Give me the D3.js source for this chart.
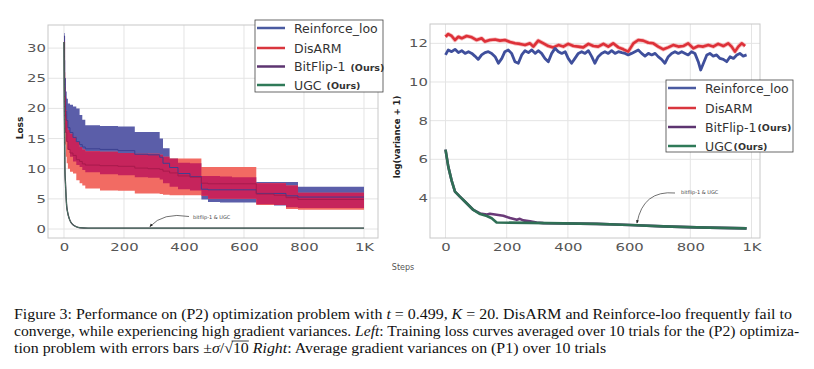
<!DOCTYPE html>
<html><head><meta charset="utf-8">
<script src="https://cdn.jsdelivr.net/npm/d3@7"></script>
<style>
body{margin:0;background:#fff;}
svg{display:block;}
</style></head><body>
<svg id="c" width="814" height="369"></svg>
<script>
// ---------- LEFT: training loss (step-wise bands) ----------
const lossSteps       = [0,2,4,6,9,13,20,30,41,52,61,71,120,180,236,280,319,330,352,380,420,458,480,520,560,600,641,700,740,780,850,920,1000];
const reinforceUpper  = [32.5,28,25,22.8,21.6,20.8,20.6,20.3,20.0,18.9,18.1,17.2,17.1,17.0,16.1,16.1,15.0,13.4,11.7,11.0,10.9,8.8,8.8,8.7,8.6,8.6,7.8,7.8,7.8,7.0,7.0,7.0,7.0];
const reinforceMean   = [32,25,21.8,19.5,18,16.8,16,15.2,14.5,14.0,13.6,13.3,13.2,13.0,12.4,12.3,11.9,10.9,10.2,9.2,8.7,6.6,6.5,6.5,6.5,6.5,5.9,5.9,5.5,5.3,5.3,5.3,5.3];
const reinforceLower  = [31,22,18.5,16,14.5,13.2,12.0,11.2,10.6,10.3,9.8,9.4,9.1,8.9,8.6,8.5,8.2,7.6,7.0,6.6,6.4,4.9,4.5,4.4,4.4,4.4,4.1,3.9,3.6,3.5,3.5,3.5,3.5];
const disarmUpper     = [32,26,23.6,19.7,18.1,16.4,15.8,15.3,14.5,13.6,13.2,12.9,12.8,12.6,12.5,12.5,12.3,12.0,11.7,11.7,11.7,10.3,10.3,10.3,10.3,10.3,7.6,7.6,7.2,6.0,6.0,6.0,6.0];
const disarmMean      = [31,22,19,16,14.5,13.2,12.6,12.2,11.5,11.2,10.8,10.6,10.5,10.4,10.1,10.0,9.9,9.6,9.3,8.8,8.6,7.6,7.5,7.5,7.5,7.5,5.8,5.6,5.2,4.9,4.9,4.9,4.9];
const disarmLower     = [30,18,14,12,10.9,10,9.5,9.2,8.1,7.6,7.2,6.7,6.4,6.35,5.9,5.9,5.8,5.7,5.6,5.6,5.6,5.5,5.0,5.0,5.0,5.0,4.0,4.0,3.3,3.2,3.2,3.2,3.2];
const ugcLossSteps    = [0,1,2,3,5,7,9,12,17,22,31,40,53,80,150,400,700,1000];
const ugcLoss         = [31,22,16,10,7.5,5.3,3.8,2.8,1.8,1.2,0.66,0.4,0.22,0.15,0.15,0.15,0.15,0.15];
const bitflipLoss     = [31,22,16,10,7.5,5.3,3.8,2.8,1.8,1.2,0.66,0.4,0.22,0.15,0.15,0.15,0.15,0.15];

// ---------- RIGHT: log(variance + 1) ----------
const disarmVarSteps = [0,9,20,31,42,53,69,86,102,118,129,145,162,178,194,211,227,243,260,276,287,303,320,336,352,369,385,401,418,434,450,467,483,499,516,532,548,565,581,597,614,630,646,663,679,695,712,728,744,761,777,793,810,826,842,859,875,891,908,924,935,946,957,968,979];
const disarmVar      = [12.34,12.48,12.38,12.17,12.34,12.26,12.38,12.31,12.17,12.26,12.09,12.17,12.2,12.14,12.17,12.07,12.0,11.97,11.91,12.0,11.83,12.14,12.0,11.86,11.79,11.91,11.83,11.97,11.86,11.83,11.79,11.97,11.86,11.83,11.97,11.83,12.0,11.79,11.69,11.57,12.0,12.17,12.14,12.03,12.0,11.83,11.69,11.79,11.91,11.83,11.86,12.0,11.74,11.86,11.83,11.91,11.83,11.97,11.86,12.0,11.83,11.57,11.83,12.0,11.86];
const reinforceVarSteps = [0,9,20,31,42,53,64,75,86,96,107,118,129,140,151,162,173,184,194,205,216,227,238,249,260,271,282,293,303,314,325,336,347,358,369,380,391,401,412,423,434,445,456,467,478,488,499,510,521,532,543,554,565,576,587,597,608,619,630,641,652,663,674,685,695,706,717,728,739,750,761,772,783,793,804,815,826,834,843,854,864,875,886,897,908,919,930,941,952,962,973,984];
const reinforceVar      = [11.4,11.66,11.57,11.69,11.52,11.62,11.48,11.57,11.48,11.34,11.17,11.4,11.52,11.57,11.48,11.31,10.97,11.22,11.57,11.66,11.48,11.05,10.97,11.4,11.62,11.52,11.66,11.48,11.62,11.48,11.22,11.05,11.48,11.74,11.57,11.48,11.57,11.22,10.97,11.22,11.48,11.57,11.48,11.62,11.31,10.97,11.31,11.48,11.57,11.48,11.62,11.48,11.57,11.52,11.48,11.4,11.48,11.57,11.66,11.48,11.34,11.48,11.4,11.48,11.31,11.17,10.97,11.31,11.48,11.57,11.48,11.57,11.48,11.4,11.57,11.48,11.05,10.62,10.97,11.4,11.48,11.34,11.4,11.22,11.17,11.05,11.31,11.22,11.4,11.48,11.34,11.4];
const ugcVarSteps = [0,9,20,31,47,69,91,113,135,151,167,276,494,603,712,821,984];
const ugcVar      = [6.5,5.62,4.9,4.33,4.07,3.73,3.38,3.17,3.07,2.95,2.73,2.71,2.66,2.6,2.53,2.48,2.43];
const bitflipVarSteps = [0,9,20,31,47,69,91,113,135,145,167,189,211,233,243,254,276,298,320,494,603,712,821,984];
const bitflipVar      = [6.5,5.62,4.9,4.33,4.07,3.73,3.38,3.2,3.15,3.18,3.13,3.08,2.96,2.87,2.92,2.84,2.79,2.73,2.7,2.66,2.6,2.53,2.48,2.43];

const xTicks = [0,200,400,600,800,1000];
const lossTicks = [0,5,10,15,20,25,30];
const varTicks = [4,6,8,10,12];
const legendNames = ["Reinforce_loo","DisARM","BitFlip-1","UGC"];
const legendOurs  = [false,false,true,true];
const annotationText = "bitflip-1 & UGC";

// ---------- colours ----------
const C = {
  blueBand:"#5b5ea9", redBand:"#f26b63", overlap:"#c6245c",
  blueMean:"#3c4192", redMean:"#a81a4c",
  blueLine:"#3f4f9c", redLine:"#dd3038", purple:"#6a3a78", green:"#2f6f55",
  grid:"#e4e4e4", frame:"#c8c8c8", tick:"#555"
};
const legendColors = ["#4a5aa0","#d9363e","#5d3470","#2f7a58"];

const svg = d3.select("#c");
const fmt = d => d===1000 ? "1K" : d;

svg.append("defs").append("marker").attr("id","arr").attr("viewBox","0 0 10 10")
  .attr("refX",8).attr("refY",5).attr("markerWidth",5).attr("markerHeight",5).attr("orient","auto")
  .append("path").attr("d","M0,1 L10,5 L0,9 z").attr("fill","#222");

function frame(g, x, y, xt, yt){
  const [x0,x1] = x.range(), [y0,y1] = y.range();
  g.append("g").selectAll("line").data(xt).join("line")
    .attr("x1",d=>x(d)).attr("x2",d=>x(d)).attr("y1",y0).attr("y2",y1)
    .attr("stroke",C.grid).attr("stroke-width",1);
  g.append("g").selectAll("line").data(yt).join("line")
    .attr("x1",x0).attr("x2",x1).attr("y1",d=>y(d)).attr("y2",d=>y(d))
    .attr("stroke",C.grid).attr("stroke-width",1);
  g.append("rect").attr("x",x0).attr("y",y1).attr("width",x1-x0).attr("height",y0-y1)
    .attr("fill","none").attr("stroke",C.frame).attr("stroke-width",1);
  const ax = g.append("g").attr("transform",`translate(0,${y0})`)
    .call(d3.axisBottom(x).tickValues(xt).tickFormat(fmt).tickSize(0).tickPadding(5));
  const ay = g.append("g").attr("transform",`translate(${x0},0)`)
    .call(d3.axisLeft(y).tickValues(yt).tickSize(0).tickPadding(1.5));
  [ax,ay].forEach(a=>{
    a.select(".domain").remove();
    a.selectAll("text").attr("fill",C.tick).attr("font-family","DejaVu Sans").attr("font-size",11)
      .attr("transform","scale(1.35,1)");
  });
}

function legend(g, x, y, w, h, rowY, sep){
  g.append("rect").attr("x",x).attr("y",y).attr("width",w).attr("height",h)
    .attr("fill","#fff").attr("stroke","#444").attr("stroke-width",0.8);
  legendNames.forEach((n,i)=>{
    const yy = rowY[i];
    g.append("line").attr("x1",x+2).attr("x2",x+30).attr("y1",yy).attr("y2",yy)
      .attr("stroke",legendColors[i]).attr("stroke-width",2.5);
    const t = g.append("text").attr("x",x+39).attr("y",yy+4.5)
      .attr("font-family","DejaVu Sans").attr("font-size",12.5).attr("fill","#333").text(n);
    if(legendOurs[i]) t.append("tspan").attr("dx",sep).attr("dy",-0.5).attr("font-size",9.5).attr("font-weight","bold").text("(Ours)");
  });
}

function annot(g, tx, ty, p0, c, p1){
  g.append("text").attr("x",tx).attr("y",ty).attr("font-family","DejaVu Sans")
    .attr("font-size",5).attr("fill","#444").text(annotationText);
  const p = d3.path(); p.moveTo(p0[0],p0[1]); p.quadraticCurveTo(c[0],c[1],p1[0],p1[1]);
  g.append("path").attr("d",p.toString()).attr("fill","none").attr("stroke","#333")
    .attr("stroke-width",0.7).attr("marker-end","url(#arr)");
}

// ---------- LEFT chart ----------
{
  const g = svg.append("g");
  const x = d3.scaleLinear().domain([-53.3,1046.7]).range([48,378]);
  const y = d3.scaleLinear().domain([-1.49,33.83]).range([238,25]);
  frame(g, x, y, xTicks, lossTicks);

  const band = (lo, hi) => d3.area().curve(d3.curveStepAfter)
    .x((d,i)=>x(lossSteps[i])).y0((d,i)=>y(lo[i])).y1((d,i)=>y(hi[i]))(lossSteps);
  const line = (v, s) => d3.line().curve(d3.curveStepAfter)
    .x((d,i)=>x(s[i])).y((d,i)=>y(v[i]))(s);

  g.append("clipPath").attr("id","blueClip").append("path").attr("d",band(reinforceLower,reinforceUpper));
  g.append("path").attr("d",band(reinforceLower,reinforceUpper)).attr("fill",C.blueBand);
  g.append("path").attr("d",band(disarmLower,disarmUpper)).attr("fill",C.redBand);
  g.append("path").attr("d",band(disarmLower,disarmUpper)).attr("fill",C.overlap).attr("clip-path","url(#blueClip)");
  g.append("path").attr("d",line(reinforceMean,lossSteps)).attr("fill","none").attr("stroke",C.blueMean).attr("stroke-width",1);
  g.append("path").attr("d",line(disarmMean,lossSteps)).attr("fill","none").attr("stroke",C.redMean).attr("stroke-width",1);

  const sm = (v) => d3.line().curve(d3.curveMonotoneX).x((d,i)=>x(ugcLossSteps[i])).y((d,i)=>y(v[i]))(ugcLossSteps);
  g.append("path").attr("d",sm(bitflipLoss)).attr("fill","none").attr("stroke","#3a2a40").attr("stroke-width",1.4);
  g.append("path").attr("d",sm(ugcLoss)).attr("fill","none").attr("stroke","#4d7a66").attr("stroke-width",1);

  annot(g, 193, 218.5, [189,216.5],[163,212],[150,226.5]);
  legend(g, 255, 20, 128, 72, [28,48,66.5,85], 5);

  g.append("text").attr("transform","translate(23,128) rotate(-90)").attr("text-anchor","middle")
    .attr("font-family","DejaVu Sans").attr("font-weight","bold").attr("font-size",9).attr("fill","#222").text("Loss");
  g.append("text").attr("x",403).attr("y",270).attr("text-anchor","middle")
    .attr("font-family","DejaVu Sans").attr("font-size",8).attr("fill","#555").text("Steps");
}

// ---------- RIGHT chart ----------
{
  const g = svg.append("g");
  const x = d3.scaleLinear().domain([-50.7,1027.8]).range([430,760]);
  const y = d3.scaleLinear().domain([1.93,13.0]).range([238,24]);
  frame(g, x, y, xTicks, varTicks);
  const ln = (s, v) => d3.line().x((d,i)=>x(s[i])).y((d,i)=>y(v[i]))(s);
  g.append("path").attr("d",ln(disarmVarSteps,disarmVar)).attr("fill","none").attr("stroke","#f08a8e").attr("stroke-width",4.2).attr("opacity",0.6).attr("stroke-linejoin","round");
  g.append("path").attr("d",ln(disarmVarSteps,disarmVar)).attr("fill","none").attr("stroke",C.redLine).attr("stroke-width",2.6).attr("stroke-linejoin","round");
  g.append("path").attr("d",ln(reinforceVarSteps,reinforceVar)).attr("fill","none").attr("stroke",C.blueLine).attr("stroke-width",2.8).attr("stroke-linejoin","round");
  g.append("path").attr("d",ln(bitflipVarSteps,bitflipVar)).attr("fill","none").attr("stroke",C.purple).attr("stroke-width",2.6).attr("stroke-linejoin","round");
  g.append("path").attr("d",ln(ugcVarSteps,ugcVar)).attr("fill","none").attr("stroke",C.green).attr("stroke-width",2.6).attr("stroke-linejoin","round");

  annot(g, 681, 194, [675,193],[643,190],[637,223]);
  legend(g, 666, 80, 127, 72, [88,108,127,146], 1);

  g.append("text").attr("transform","translate(400,137) rotate(-90)").attr("text-anchor","middle")
    .attr("font-family","DejaVu Sans").attr("font-weight","600").attr("font-size",8.5).attr("fill","#222").text("log(variance + 1)");
}

// ---------- caption ----------
{
  const lines = [
    {y:319, w:778, parts:[["Figure 3: Performance on (P2) optimization problem with ",0],["t",1],[" = 0.499, ",0],["K",1],[" = 20. DisARM and Reinforce-loo frequently fail to",0]]},
    {y:336, w:786, parts:[["converge, while experiencing high gradient variances. ",0],["Left",1],[": Training loss curves averaged over 10 trials for the (P2) optimiza-",0]]},
    {y:353, w:593, parts:[["tion problem with errors bars \u00b1",0],["\u03c3",1],["/\u221a",0],["10",2],[" ",0],["Right",1],[": Average gradient variances on (P1) over 10 trials",0]]}
  ];
  lines.forEach(L=>{
    const gg = svg.append("g");
    const t = gg.append("text").attr("x",0).attr("y",0)
      .attr("font-family","Liberation Serif").attr("font-size",15).attr("fill","#111");
    let over = null, idx = 0;
    L.parts.forEach(([s,k])=>{
      const sp = t.append("tspan").text(s);
      if(k===1) sp.attr("font-style","italic");
      if(k===2) over = [idx, idx + s.length - 1];
      idx += s.length;
    });
    const node = t.node();
    const len = node.getComputedTextLength();
    gg.attr("transform",`translate(14,${L.y}) scale(${L.w/len},1)`);
    if(over){
      const a = node.getStartPositionOfChar(over[0]-1).x + 7;
      const b = node.getEndPositionOfChar(over[1]).x;
      gg.append("line").attr("x1",a).attr("x2",b).attr("y1",-12).attr("y2",-12)
        .attr("stroke","#111").attr("stroke-width",0.8);
    }
  });
}
</script>
</body></html>
